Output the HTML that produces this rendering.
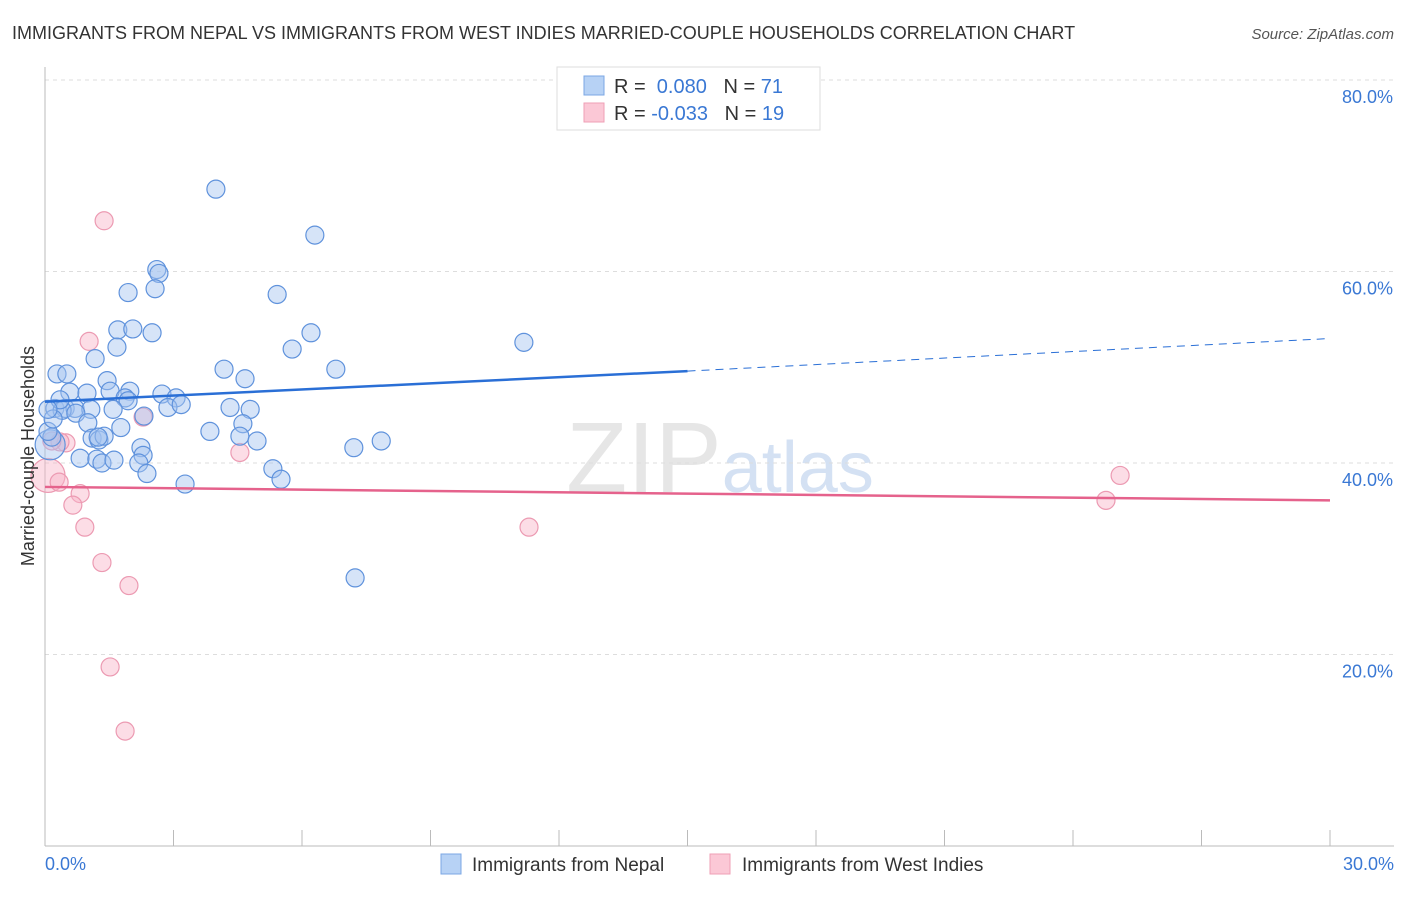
<!DOCTYPE html>
<html><head><meta charset="utf-8"><style>
body{margin:0;background:#fff;font-family:"Liberation Sans",sans-serif}
svg text{font-family:"Liberation Sans",sans-serif}
</style></head><body>
<svg id="chart" width="1406" height="892" xmlns="http://www.w3.org/2000/svg">
<text x="12" y="39" font-size="18" fill="#333">IMMIGRANTS FROM NEPAL VS IMMIGRANTS FROM WEST INDIES MARRIED-COUPLE HOUSEHOLDS CORRELATION CHART</text>
<text x="1394" y="39" font-size="15" fill="#555" text-anchor="end" font-style="italic">Source: ZipAtlas.com</text>
<text x="720" y="492" font-size="100" text-anchor="middle" fill="#e6e6e6" font-family="Liberation Serif">ZIP<tspan fill="#d4e1f3" font-family="Liberation Sans" font-size="72">atlas</tspan></text>
<g id="grid"></g>
<g id="axes"></g>
<g id="marks"></g>
<text transform="translate(34,456) rotate(-90)" font-size="18" fill="#333" text-anchor="middle">Married-couple Households</text>
<g>
<rect x="557" y="67" width="263" height="63" fill="#fff" stroke="#ddd"/>
<rect x="584" y="76" width="20" height="19" fill="#b7d2f5" stroke="#7ba7e4"/>
<text x="614" y="93" font-size="20" fill="#333">R = <tspan fill="#3a78d4">&#160;0.080</tspan>&#160;&#160;&#160;N = <tspan fill="#3a78d4">71</tspan></text>
<rect x="584" y="103" width="20" height="19" fill="#fbc8d6" stroke="#ef9fb6"/>
<text x="614" y="120" font-size="20" fill="#333">R = <tspan fill="#3a78d4">-0.033</tspan>&#160;&#160;&#160;N = <tspan fill="#3a78d4">19</tspan></text>
</g>
<g>
<rect x="441" y="854" width="20" height="20" fill="#b7d2f5" stroke="#7ba7e4"/>
<text x="472" y="871" font-size="19" fill="#333">Immigrants from Nepal</text>
<rect x="710" y="854" width="20" height="20" fill="#fbc8d6" stroke="#ef9fb6"/>
<text x="742" y="871" font-size="19" fill="#333">Immigrants from West Indies</text>
</g>
</svg>
<script>
const yTicks=[20,40,60,80];
const yTickLabels=["20.0%","40.0%","60.0%","80.0%"];
const xTickLabels=["0.0%","30.0%"];
const nepalX=[3.99,6.30,2.61,2.66,2.57,1.94,5.42,1.70,2.05,2.50,6.21,1.68,5.77,11.18,1.17,6.79,4.18,0.28,0.51,1.45,4.67,0.58,1.52,1.98,0.98,2.73,3.06,1.87,1.94,0.23,0.47,0.70,1.07,0.40,1.59,2.87,3.18,4.32,4.79,2.31,0.72,1.00,1.77,3.85,4.62,4.55,4.95,1.10,1.26,1.38,2.24,7.21,7.85,0.12,0.16,0.82,1.21,1.33,1.61,2.29,2.19,2.38,5.32,5.51,3.27,7.24,0.07,0.19,0.35,1.24,0.07];
const nepalY=[68.6,63.8,60.2,59.8,58.2,57.8,57.6,53.9,54.0,53.6,53.6,52.1,51.9,52.6,50.9,49.8,49.8,49.3,49.3,48.6,48.8,47.4,47.5,47.5,47.3,47.2,46.8,46.8,46.5,45.7,45.7,45.7,45.6,45.5,45.6,45.8,46.1,45.8,45.6,44.9,45.2,44.2,43.7,43.3,44.1,42.8,42.3,42.6,42.4,42.8,41.6,41.6,42.3,41.9,42.7,40.5,40.4,40.0,40.3,40.8,40.0,38.9,39.4,38.3,37.8,28.0,43.3,44.6,46.6,42.7,45.6];
const wiX=[1.38,1.03,2.29,4.55,0.49,0.35,0.16,0.07,0.33,0.82,0.65,0.93,1.33,1.96,1.52,1.87,11.30,25.10,24.77];
const wiY=[65.3,52.7,44.8,41.1,42.1,42.2,42.3,38.7,38.0,36.8,35.6,33.3,29.6,27.2,18.7,12.0,33.3,38.7,36.1];
const nepalTrend=[46.4,49.6,53.0]; // at x=0,15,30
const wiTrend=[37.5,36.1]; // at x=0,30

const NS="http://www.w3.org/2000/svg";
const X=v=>45+v/30*1285;
const Y=v=>846-v*9.575;
function mk(parent,tag,attrs){const e=document.createElementNS(NS,tag);for(const k in attrs)e.setAttribute(k,attrs[k]);document.getElementById(parent).appendChild(e);return e;}
yTicks.forEach((t,i)=>{
  const l=mk('grid','line',{x1:45,x2:1394,y1:Y(t),y2:Y(t),stroke:'#ddd','stroke-dasharray':'4,4'});
  
  
  const tx=mk('grid','text',{x:1393,y:Y(t)+23,'font-size':18,fill:'#3a78d4','text-anchor':'end'});
  tx.textContent=yTickLabels[i];
  
  
});
const ax=mk('axes','line',{x1:45,x2:45,y1:67,y2:846,stroke:'#bbb'});


const bx=mk('axes','line',{x1:45,x2:1394,y1:846,y2:846,stroke:'#bbb'});


for(let i=0;i<=10;i++){
  const t=mk('axes','line',{x1:X(i*3),x2:X(i*3),y1:830,y2:846,stroke:'#bbb'});
  
  
}
[[0,'start',45],[30,'end',1394]].forEach((d,i)=>{
  const t=mk('axes','text',{x:d[2],y:870,'font-size':18,fill:'#3a78d4','text-anchor':d[1]});
  t.textContent=xTickLabels[i];
  
  
});
wiX.forEach((x,i)=>{
  const c=mk('marks','circle',{cx:X(x),cy:Y(wiY[i]),r:(i==7?17:9),fill:'rgba(248,180,200,0.45)',stroke:'#ec9ab2','stroke-width':1.2});
  
  
});
nepalX.forEach((x,i)=>{
  const c=mk('marks','circle',{cx:X(x),cy:Y(nepalY[i]),r:(i==53?15:9),fill:'rgba(164,196,240,0.45)',stroke:'#5f92dc','stroke-width':1.2});
  
  
});
const t1=mk('marks','line',{x1:X(0),y1:Y(nepalTrend[0]),x2:X(15),y2:Y(nepalTrend[1]),stroke:'#2a6fd6','stroke-width':2.5});


const t2=mk('marks','line',{x1:X(15),y1:Y(nepalTrend[1]),x2:X(30),y2:Y(nepalTrend[2]),stroke:'#2a6fd6','stroke-width':1,'stroke-dasharray':'8,6'});


const t3=mk('marks','line',{x1:X(0),y1:Y(wiTrend[0]),x2:X(30),y2:Y(wiTrend[1]),stroke:'#e5628c','stroke-width':2.5});


</script>
</body></html>
